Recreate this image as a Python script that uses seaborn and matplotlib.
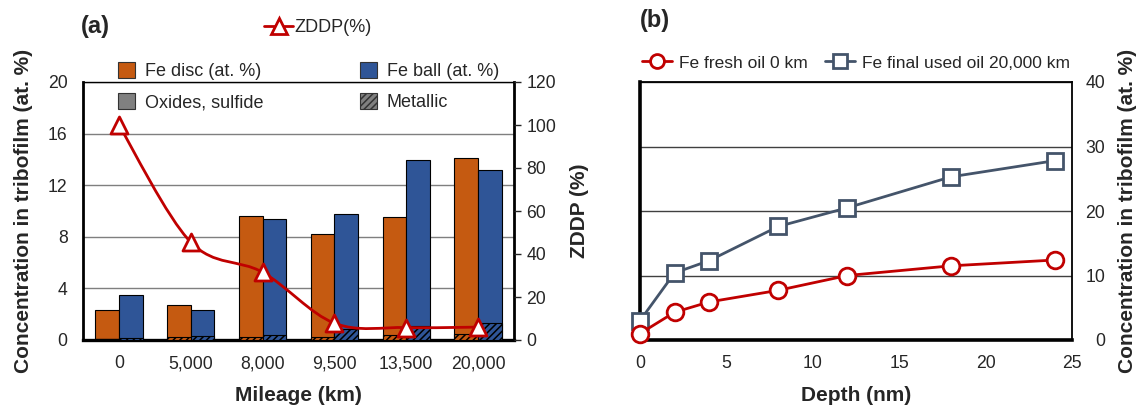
import numpy as np
import pandas as pd
import matplotlib
matplotlib.use("Agg")
import matplotlib.pyplot as plt
from matplotlib.path import Path
from matplotlib.patches import PathPatch, Patch
from matplotlib.lines import Line2D
import seaborn as sns

# ---- data -------------------------------------------------------------
mileage = ["0", "5,000", "8,000", "9,500", "13,500", "20,000"]
fe_disc_total = [2.3, 2.7, 9.6, 8.2, 9.5, 14.1]
fe_ball_total = [3.45, 2.3, 9.35, 9.8, 13.95, 13.15]
fe_disc_metallic = [0.05, 0.2, 0.2, 0.25, 0.35, 0.45]
fe_ball_metallic = [0.15, 0.3, 0.4, 0.85, 1.05, 1.3]
zddp_pct = [100, 45.5, 31.5, 7.8, 5.8, 6.0]

depth_nm = [0, 2, 4, 8, 12, 18, 24]
fe_fresh = [1.0, 4.3, 5.9, 7.7, 10.0, 11.5, 12.4]
fe_used = [3.0, 10.4, 12.3, 17.6, 20.5, 25.3, 27.8]

# ---- style ------------------------------------------------------------
sns.set_style("white")
plt.rcParams["font.family"] = ["Liberation Sans", "DejaVu Sans"]
plt.rcParams["hatch.color"] = "#1f2a3a"
plt.rcParams["hatch.linewidth"] = 1.1

ORANGE = "#C55A11"
BLUE = "#2F5597"
RED = "#C00000"
SLATE = "#44546A"
TICK_FS = 12.7
LABEL_FS = 15
LEGEND_FS = 13

W, H = 1142, 408
fig = plt.figure(figsize=(W / 100, H / 100), dpi=100)


def box(x0, y0, x1, y1):
    return [x0 / W, 1 - y1 / H, (x1 - x0) / W, (y1 - y0) / H]


# ======================= panel (a) =====================================
ax = fig.add_axes(box(83, 82, 514, 340))
bars = pd.DataFrame({
    "Mileage": mileage * 2,
    "Part": ["Fe disc"] * 6 + ["Fe ball"] * 6,
    "Total": fe_disc_total + fe_ball_total,
    "Metallic": fe_disc_metallic + fe_ball_metallic,
})
common = dict(data=bars, x="Mileage", hue="Part", order=mileage,
              hue_order=["Fe disc", "Fe ball"], palette=[ORANGE, BLUE],
              width=0.66, gap=0, errorbar=None, legend=False, ax=ax,
              edgecolor="black", linewidth=0.8, saturation=1)
sns.barplot(y="Total", zorder=2, **common)
sns.barplot(y="Metallic", hatch="/////", zorder=3, **common)

ax.set_ylim(0, 20)
ax.set_yticks([0, 4, 8, 12, 16, 20])
ax.set_xlim(-0.5, 5.5)
ax.yaxis.grid(True, color="#7f7f7f", linewidth=1.0, zorder=0)
ax.set_axisbelow(True)
ax.tick_params(axis="y", length=0, pad=11, labelsize=TICK_FS)
ax.tick_params(axis="x", length=0, pad=11, labelsize=TICK_FS)
ax.set_xlabel("Mileage (km)", fontsize=LABEL_FS, fontweight="bold", labelpad=10)
ax.set_ylabel("Concentration in tribofilm (at. %)", fontsize=LABEL_FS,
              fontweight="bold", labelpad=11)
for side, lw in [("left", 2.0), ("bottom", 2.4), ("top", 1.0), ("right", 2.0)]:
    ax.spines[side].set_visible(True)
    ax.spines[side].set_color("black")
    ax.spines[side].set_linewidth(lw)

# ZDDP on the secondary axis, drawn as a smoothed curve
ax2 = ax.twinx()
ax2.set_ylim(0, 120)
ax2.set_yticks(range(0, 121, 20))
xs = np.arange(len(zddp_pct), dtype=float)
ys = np.asarray(zddp_pct, dtype=float)
verts = [(xs[0], ys[0])]
codes = [Path.MOVETO]
n = len(xs)
for i in range(n - 1):
    p0 = np.array([xs[max(i - 1, 0)], ys[max(i - 1, 0)]])
    p1 = np.array([xs[i], ys[i]])
    p2 = np.array([xs[i + 1], ys[i + 1]])
    p3 = np.array([xs[min(i + 2, n - 1)], ys[min(i + 2, n - 1)]])
    c1 = p1 + (p2 - p0) / 6
    c2 = p2 - (p3 - p1) / 6
    verts += [tuple(c1), tuple(c2), tuple(p2)]
    codes += [Path.CURVE4] * 3
ax2.add_patch(PathPatch(Path(verts, codes), facecolor="none",
                        edgecolor=RED, linewidth=2.0, zorder=4))
sns.scatterplot(x=xs, y=ys, marker="^", s=150, facecolor="white",
                edgecolor=RED, linewidth=2.0, zorder=5, ax=ax2,
                legend=False, clip_on=False)
ax2.set_xlim(-0.5, 5.5)
ax2.tick_params(axis="y", length=5, width=1, direction="out", pad=4,
                labelsize=TICK_FS)
ax2.set_ylabel("ZDDP (%)", fontsize=LABEL_FS, fontweight="bold", labelpad=10)
for s in ax2.spines.values():
    s.set_visible(False)

fig.text(81 / W, 1 - 27 / H, "(a)", fontsize=17, fontweight="bold",
         ha="left", va="center")

zddp_handle = Line2D([], [], color=RED, lw=2, marker="^", markersize=11,
                     markerfacecolor="white", markeredgecolor=RED,
                     markeredgewidth=2)
fig.legend([zddp_handle], ["ZDDP(%)"], loc="center left",
           bbox_to_anchor=(248 / W, 1 - 28 / H), frameon=False,
           fontsize=LEGEND_FS, handlelength=1.6, handletextpad=0.05)

bar_handles = [
    Patch(facecolor=ORANGE, edgecolor="#333333", linewidth=0.8),
    Patch(facecolor="#808080", edgecolor="#333333", linewidth=0.8),
    Patch(facecolor=BLUE, edgecolor="#333333", linewidth=0.8),
    Patch(facecolor="#808080", edgecolor="#333333", linewidth=0.8,
          hatch="/////"),
]
bar_labels = ["Fe disc (at. %)", "Oxides, sulfide", "Fe ball (at. %)", "Metallic"]
fig.legend(bar_handles, bar_labels, ncol=2, loc="upper left",
           bbox_to_anchor=(102 / W, 1 - 46 / H), frameon=False,
           fontsize=LEGEND_FS, handlelength=0.95, handleheight=0.95,
           handletextpad=0.55, columnspacing=5.3, labelspacing=0.72)

# ======================= panel (b) =====================================
bx = fig.add_axes(box(640, 82, 1072, 340))
lines = pd.DataFrame({
    "Depth": depth_nm * 2,
    "Fe": fe_fresh + fe_used,
    "Oil": ["fresh"] * len(depth_nm) + ["used"] * len(depth_nm),
})
sns.lineplot(data=lines[lines.Oil == "fresh"], x="Depth", y="Fe", color=RED,
             lw=2, marker="o", markersize=12, markerfacecolor="white",
             markeredgecolor=RED, markeredgewidth=2, ax=bx, clip_on=False,
             zorder=4)
sns.lineplot(data=lines[lines.Oil == "used"], x="Depth", y="Fe", color=SLATE,
             lw=2, marker="s", markersize=12, markerfacecolor="white",
             markeredgecolor=SLATE, markeredgewidth=2, ax=bx, clip_on=False,
             zorder=3)
bx.set_xlim(0, 25)
bx.set_ylim(0, 40)
bx.set_xticks([0, 5, 10, 15, 20, 25])
bx.set_yticks([0, 10, 20, 30, 40])
bx.yaxis.grid(True, color="#404040", linewidth=1.0, zorder=0)
bx.set_axisbelow(True)
bx.yaxis.tick_right()
bx.yaxis.set_label_position("right")
bx.tick_params(axis="y", left=False, right=False, labelleft=False,
               labelright=True, length=0, pad=24, labelsize=TICK_FS)
for t in bx.yaxis.get_major_ticks():
    t.label2.set_horizontalalignment("right")
bx.tick_params(axis="x", length=0, pad=11, labelsize=TICK_FS)
bx.set_xlabel("Depth (nm)", fontsize=LABEL_FS, fontweight="bold", labelpad=10)
bx.set_ylabel("Concentration in tribofilm (at. %)", fontsize=LABEL_FS,
              fontweight="bold", labelpad=9)
for side, lw in [("left", 2.6), ("bottom", 2.6), ("top", 1.3), ("right", 1.3)]:
    bx.spines[side].set_visible(True)
    bx.spines[side].set_color("black")
    bx.spines[side].set_linewidth(lw)

fig.text(640 / W, 1 - 21 / H, "(b)", fontsize=17, fontweight="bold",
         ha="left", va="center")
line_handles = [
    Line2D([], [], color=RED, lw=2, marker="o", markersize=10,
           markerfacecolor="white", markeredgecolor=RED, markeredgewidth=2),
    Line2D([], [], color=SLATE, lw=2, marker="s", markersize=10,
           markerfacecolor="white", markeredgecolor=SLATE, markeredgewidth=2),
]
fig.legend(line_handles, ["Fe fresh oil 0 km", "Fe final used oil 20,000 km"],
           ncol=2, loc="center left", bbox_to_anchor=(626 / W, 1 - 63 / H),
           frameon=False, fontsize=12.5, handlelength=1.75, handletextpad=0.4,
           columnspacing=1.0)

fig.savefig("out.png", dpi=100)
